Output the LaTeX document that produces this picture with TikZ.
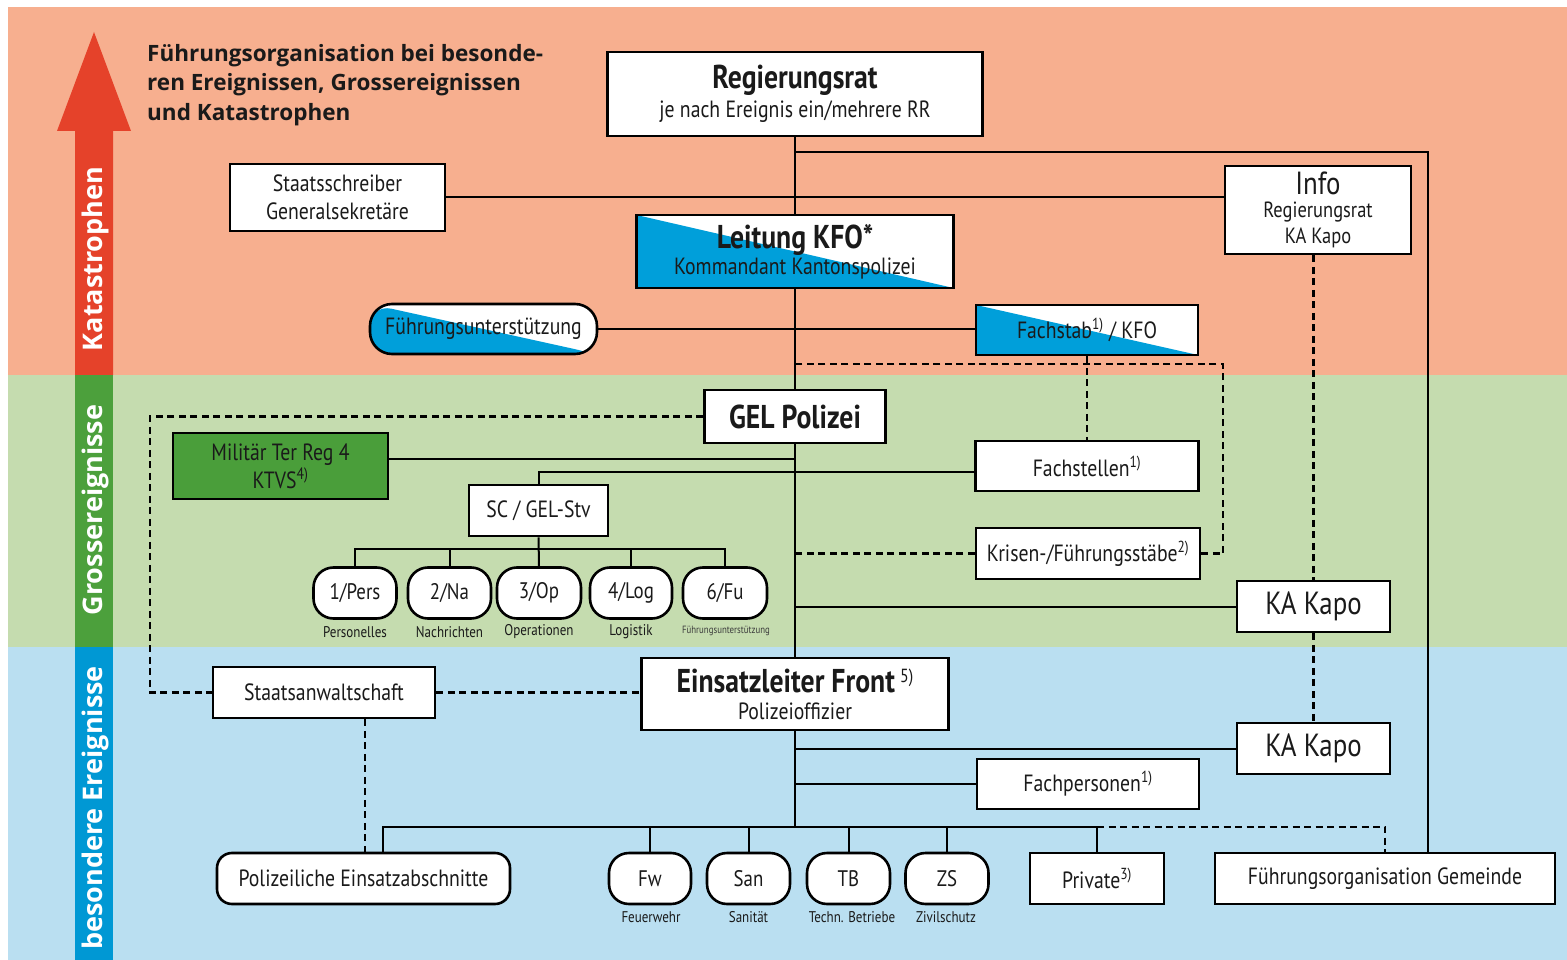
\documentclass[tikz,border=0pt]{standalone}
\usepackage{fontspec}
\setmainfont{PT Sans}[FakeStretch=0.84]
\newfontfamily\titlefont{Open Sans}
\definecolor{pinkbg}{RGB}{247,175,143}
\definecolor{greenbg}{RGB}{197,220,175}
\definecolor{bluebg}{RGB}{186,223,241}
\definecolor{arrred}{RGB}{229,66,42}
\definecolor{bargreen}{RGB}{76,160,60}
\definecolor{barblue}{RGB}{0,152,212}
\definecolor{kblue}{RGB}{0,159,218}
\definecolor{milgreen}{RGB}{74,158,58}
\definecolor{txt}{RGB}{26,26,26}
\newcommand\myfa{\fontsize{23.5}{28}\selectfont}
\newcommand\myfb{\fontsize{33}{34}\selectfont\bfseries}
\newcommand\myfk{\fontsize{32}{34}\selectfont}
\newcommand\myfs{\fontsize{15.5}{18}\selectfont}
\newcommand\myfc{\fontsize{22.5}{26}\selectfont}
\newcommand\myfi{\fontsize{22}{23}\selectfont}
\newcommand\sups[1]{\textsuperscript{\fontsize{16}{17}\selectfont #1}}
\tikzset{
  bx/.style={draw=black, line width=2.6pt, fill=white, inner sep=0pt, align=center, text=txt, font=\myfa},
  rbx/.style={bx, rounded corners=20pt},
  ln/.style={line width=2pt, draw=black},
  dl/.style={line width=2.2pt, draw=black, dash pattern=on 7pt off 4.5pt},
  diag/.style={path picture={\fill[kblue] (path picture bounding box.north west) -- (path picture bounding box.south east) -- (path picture bounding box.south west) -- cycle;}},
  lab/.style={inner sep=0pt, text=txt, font=\myfs},
  side/.style={rotate=90, text=white, font=\titlefont\bfseries\fontsize{27}{30}\selectfont, inner sep=0pt}
}
\begin{document}
\begin{tikzpicture}[x=1pt,y=-1pt]
\useasboundingbox (0,0) rectangle (1567,960);
\fill[white] (0,0) rectangle (1567,960);
\fill[pinkbg] (8,7) rectangle (1567,375);
\fill[greenbg] (8,375) rectangle (1567,647);
\fill[bluebg] (8,647) rectangle (1567,960);
% arrow
\fill[arrred] (75,375) -- (75,131) -- (57,131) -- (94,32) -- (131,131) -- (113,131) -- (113,375) -- cycle;
\fill[bargreen] (75,375) rectangle (113,647);
\fill[barblue] (75,647) rectangle (113,960);
\node[side] (kat) at (95,259) {Katastrophen};
\node[side] (gro) at (95,510) {Grossereignisse};
\node[side] (bes) at (95,808) {besondere Ereignisse};
% title
\node[anchor=north west, align=left, inner sep=0pt, text=txt, font=\titlefont\bfseries\fontsize{22.5}{29.5}\selectfont] (title) at (147,44)
  {Führungsorganisation bei besonde-\\ren Ereignissen, Grossereignissen\\und Katastrophen};
% nodes
\node[bx, minimum width=375, minimum height=84] (reg) at (795,94) {{\myfb Regierungsrat}\\[1pt]je nach Ereignis ein/mehrere RR};
\node[bx, minimum width=215, minimum height=67] (sts) at (337.5,197.5) {Staatsschreiber\\Generalsekretäre};
\node[bx, minimum width=186, minimum height=88] (info) at (1318,210) {{\myfk Info}\\[-5pt]{\myfi Regierungsrat}\\[-2pt]{\myfi KA Kapo}};
\node[bx, diag, minimum width=317, minimum height=73] (lei) at (795,251.5) {{\myfb Leitung KFO*}\\[-2pt]Kommandant Kantonspolizei};
\node[bx, diag, rounded corners=22pt, minimum width=227, minimum height=50] (fu) at (483.5,329) {Führungsunterstützung};
\node[bx, diag, minimum width=222, minimum height=50] (fst) at (1087,330) {Fachstab\sups{1)} / KFO};
\node[bx, minimum width=181, minimum height=53] (gel) at (795,416.5) {\myfb GEL Polizei};
\node[bx, fill=milgreen, minimum width=215, minimum height=66] (mil) at (280.5,466) {Militär Ter Reg 4\\KTVS\textsuperscript{4)}};
\node[bx, minimum width=223, minimum height=50] (fsl) at (1087,466) {Fachstellen\sups{1)}};
\node[bx, minimum width=139, minimum height=51] (sc) at (538.5,510.5) {SC / GEL-Stv};
\node[bx, minimum width=224, minimum height=51] (krs) at (1088,553.5) {Krisen-/Führungsstäbe\sups{2)}};
\node[rbx, font=\myfc, minimum width=83, minimum height=51] (c1) at (355,593) {1/Pers};
\node[rbx, font=\myfc, minimum width=83, minimum height=51] (c2) at (449.5,593) {2/Na};
\node[rbx, font=\myfc, minimum width=84, minimum height=51] (c3) at (539,593) {3/Op};
\node[rbx, font=\myfc, minimum width=82, minimum height=51] (c4) at (631,593) {4/Log};
\node[rbx, font=\myfc, minimum width=84, minimum height=51] (c5) at (725,593) {6/Fu};
\node[lab] (l1) at (355,632) {Personelles};
\node[lab] (l2) at (449.5,632) {Nachrichten};
\node[lab] (l3) at (539,632) {Operationen};
\node[lab] (l4) at (631,632) {Logistik};
\node[lab, font=\fontsize{10.5}{12}\selectfont, text=txt!85] (l5) at (726,631) {Führungsunterstützung};
\node[bx, font=\myfk, minimum width=153, minimum height=51] (ka1) at (1313.5,606.5) {KA Kapo};
\node[bx, minimum width=222, minimum height=51] (sta) at (324,692.5) {Staatsanwaltschaft};
\node[bx, minimum width=307, minimum height=72] (elf) at (795,694) {{\myfb Einsatzleiter Front} {\raisebox{10pt}{\fontsize{19}{20}\selectfont 5)}}\\[-1pt]Polizeioffizier};
\node[bx, font=\myfk, minimum width=153, minimum height=51] (ka2) at (1313.5,748.5) {KA Kapo};
\node[bx, minimum width=222, minimum height=50] (fp) at (1088,784) {Fachpersonen\sups{1)}};
\node[bx, rounded corners=15pt, minimum width=293, minimum height=51] (pol) at (363.5,878.5) {Polizeiliche Einsatzabschnitte};
\node[rbx, font=\myfc, minimum width=82, minimum height=51] (fw) at (650,878.5) {Fw};
\node[rbx, font=\myfc, minimum width=83, minimum height=51] (san) at (748.5,878.5) {San};
\node[rbx, font=\myfc, minimum width=83, minimum height=51] (tb) at (848.5,878.5) {TB};
\node[rbx, font=\myfc, minimum width=83, minimum height=51] (zs) at (947,878.5) {ZS};
\node[bx, minimum width=134, minimum height=51] (prv) at (1097,878.5) {Private\sups{3)}};
\node[bx, minimum width=340, minimum height=51] (gem) at (1385,878.5) {Führungsorganisation Gemeinde};
\node[lab] (lfw) at (651,917) {Feuerwehr};
\node[lab] (lsan) at (748.5,917) {Sanität};
\node[lab] (ltb) at (852,917) {Techn. Betriebe};
\node[lab] (lzs) at (946,917) {Zivilschutz};
% connectors
\draw[ln] (reg.south) -- (lei.north);
\draw[ln] (lei.south) -- (gel.north);
\draw[ln] (gel.south) -- (elf.north);
\draw[ln] (elf.south) -- (elf.south |- 0,828);
\draw[ln] (reg.south |- 0,152) -| ([xshift=43pt]gem.north);
\draw[ln] (sts.east) -- (sts.east -| info.west);
\draw[ln] (fu.east) -- (fu.east -| fst.west);
\draw[dl] (krs.east) -- ++(22,0) |- (gel.north |- 0,364);
\draw[dl] (fst.south) -- (fsl.north);
\draw[dl] (krs.west) -- (krs.west -| gel.south);
\draw[dl] (gel.west) -- (gel.west -| 150,0) |- (sta.west);
\draw[dl] (sta.east) -- (sta.east -| elf.west);
\draw[dl] ([xshift=41pt]sta.south) -- ([xshift=41pt]sta.south |- pol.north);
\draw[ln] ([yshift=7pt]mil.east) -- ([yshift=7pt]mil.east -| gel.south);
\draw[ln] ([yshift=-6pt]fsl.west) -| (sc.north);
\draw[ln] (sc.south) -- (c3.north);
\draw[ln] (c1.north) -- ++(0,-17) -| (c5.north);
\draw[ln] (c2.north) -- ++(0,-17);
\draw[ln] (c4.north) -- ++(0,-17);
\draw[ln] (gel.south |- ka1.west) -- (ka1.west);
\draw[dl] (ka1.north |- info.south) -- (ka1.north);
\draw[dl] (ka1.south) -- (ka2.north);
\draw[ln] (elf.south |- ka2.west) -- (ka2.west);
\draw[ln] (elf.south |- fp.west) -- (fp.west);
\draw[ln] ([xshift=19.5pt]pol.north) -- ++(0,-25) -| (prv.north);
\draw[ln] (fw.north) -- ++(0,-25);
\draw[ln] (san.north) -- ++(0,-25);
\draw[ln] (tb.north) -- ++(0,-25);
\draw[ln] (zs.north) -- ++(0,-25);
\draw[dl] ([yshift=25pt]prv.north) -| (gem.north);
\end{tikzpicture}
\end{document}
